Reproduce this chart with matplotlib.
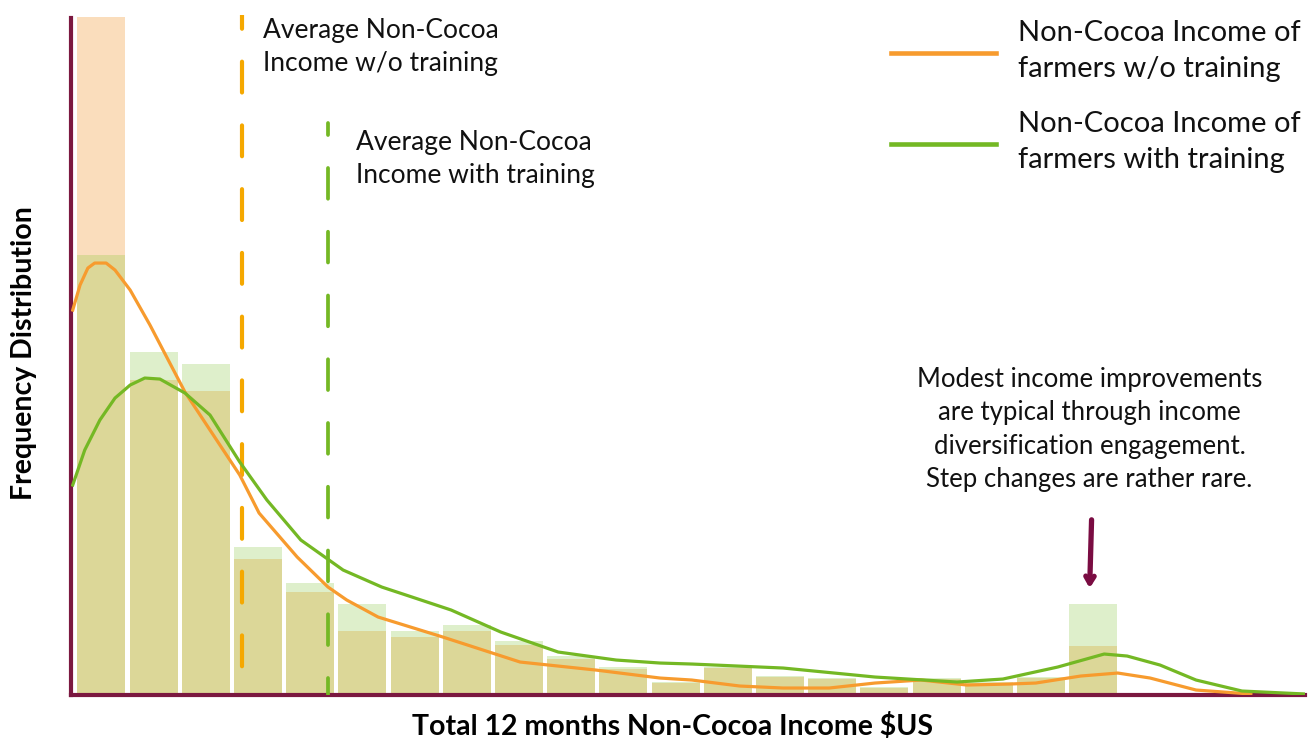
import numpy as np
import matplotlib
matplotlib.use('Agg')
import matplotlib.pyplot as plt
from matplotlib.lines import Line2D

plt.rcParams['font.family'] = ['Lato', 'DejaVu Sans']

# histogram bins (bin index), heights in relative frequency units
bins = np.arange(20)
freq_wo = [678, 315, 304, 136, 103, 64, 58, 64, 50, 36, 26, 12, 27, 18, 16, 7, 16, 12, 17, 49]
freq_with = [440, 343, 331, 148, 112, 91, 64, 70, 54, 39, 28, 13, 28, 19, 17, 8, 17, 13, 18, 91]

# smoothed density curves (x in bin units)
kde_wo_x = [-0.55, -0.41, -0.26, -0.13, 0.09, 0.26, 0.55, 0.93, 1.60, 2.08, 2.65, 3.02, 3.75, 4.34,
            4.70, 5.30, 6.54, 8.02, 9.47, 10.70, 11.31, 12.23, 13.06, 13.94, 14.82, 15.70, 16.58,
            17.40, 17.90, 18.76, 19.47, 20.09, 20.97, 22.02]
kde_wo_y = [385, 410, 427, 432, 432, 425, 405, 370, 303, 265, 220, 182, 138, 108,
            95, 78, 58, 33, 25, 17, 15, 9, 7, 7, 12, 15, 10,
            11, 12, 19, 22, 17, 5, 1]
kde_with_x = [-0.55, -0.32, -0.03, 0.26, 0.55, 0.83, 1.12, 1.60, 2.08, 2.65, 3.17, 3.82, 4.63, 5.37,
              5.95, 6.70, 7.65, 8.75, 9.86, 10.70, 11.31, 13.06, 14.82, 16.39, 17.27, 18.32, 19.21,
              19.65, 20.28, 20.97, 21.85, 23.07]
kde_with_y = [210, 245, 275, 297, 310, 317, 316, 302, 280, 233, 195, 155, 125, 108,
              98, 85, 63, 43, 35, 32, 31, 27, 18, 13, 16, 28, 41,
              39, 30, 15, 4, 1]

avg_wo = 2.69
avg_with = 4.34

orange = '#F79B2E'
green = '#74B824'
maroon = '#7B1840'
txt = '#111111'

fig = plt.figure(figsize=(13.14, 7.42), dpi=100)
ax = fig.add_axes([0.054, 0.0633, 0.9391, 0.9164])

overlap = np.minimum(freq_wo, freq_with)
ax.bar(bins, freq_wo, width=0.92, color='#FADDBC', zorder=1)
ax.bar(bins, freq_with, width=0.92, color='#DEEFCB', zorder=1)
ax.bar(bins, overlap, width=0.92, color='#DCD798', zorder=2)

ax.plot(kde_wo_x, kde_wo_y, color=orange, lw=2.3, zorder=4)
ax.plot(kde_with_x, kde_with_y, color=green, lw=2.3, zorder=4)

# average lines
ax.plot([avg_wo, avg_wo], [680, 0], color='#F5A800', lw=3, zorder=3,
        linestyle=(4.1, (7.4, 7.9)), dash_capstyle='round')
ax.plot([avg_with, avg_with], [572, 0], color=green, lw=2.7, zorder=3,
        linestyle=(5, (8.2, 8.8)), dash_capstyle='round')

ax.text(3.09, 677, 'Average Non-Cocoa\nIncome w/o training', fontsize=19, va='top',
        ha='left', linespacing=1.4, color=txt)
ax.text(4.88, 565, 'Average Non-Cocoa\nIncome with training', fontsize=19, va='top',
        ha='left', linespacing=1.4, color=txt)

ax.text(18.93, 328, 'Modest income improvements\nare typical through income\n'
        'diversification engagement.\nStep changes are rather rare.',
        fontsize=18.5, ha='center', va='top', linespacing=1.42, color=txt)
ax.annotate('', xy=(18.93, 104), xytext=(18.97, 178),
            arrowprops=dict(arrowstyle='->,head_length=0.5,head_width=0.3',
                            color='#7A0C42', lw=3.8))

# legend drawn by hand
fig.add_artist(Line2D([891 / 1314, 996 / 1314], [1 - 53 / 742, 1 - 53 / 742], color=orange, lw=3.3))
fig.add_artist(Line2D([891 / 1314, 996 / 1314], [1 - 144 / 742, 1 - 144 / 742], color=green, lw=3.3))
fig.text(1018 / 1314, 1 - 51 / 742, 'Non-Cocoa Income of\nfarmers w/o training', fontsize=21,
         va='center', ha='left', linespacing=1.5, color=txt)
fig.text(1018 / 1314, 1 - 142 / 742, 'Non-Cocoa Income of\nfarmers with training', fontsize=21,
         va='center', ha='left', linespacing=1.5, color=txt)

ax.set_xlim(-0.584, 23.056)
ax.set_ylim(0, 680)
ax.set_xticks([])
ax.set_yticks([])
for s in ['top', 'right']:
    ax.spines[s].set_visible(False)
for s in ['left', 'bottom']:
    ax.spines[s].set_color(maroon)
    ax.spines[s].set_linewidth(3)
ax.spines['left'].set_bounds(0, 677)

fig.text(672 / 1314, 1 - 727 / 742, 'Total 12 months Non-Cocoa Income $US', fontsize=20.5,
         fontweight='bold', ha='center', va='center')
fig.text(24 / 1314, 1 - 353 / 742, 'Frequency Distribution', fontsize=20.5,
         fontweight='bold', ha='center', va='center', rotation=90)

fig.savefig('out.png', dpi=100)
